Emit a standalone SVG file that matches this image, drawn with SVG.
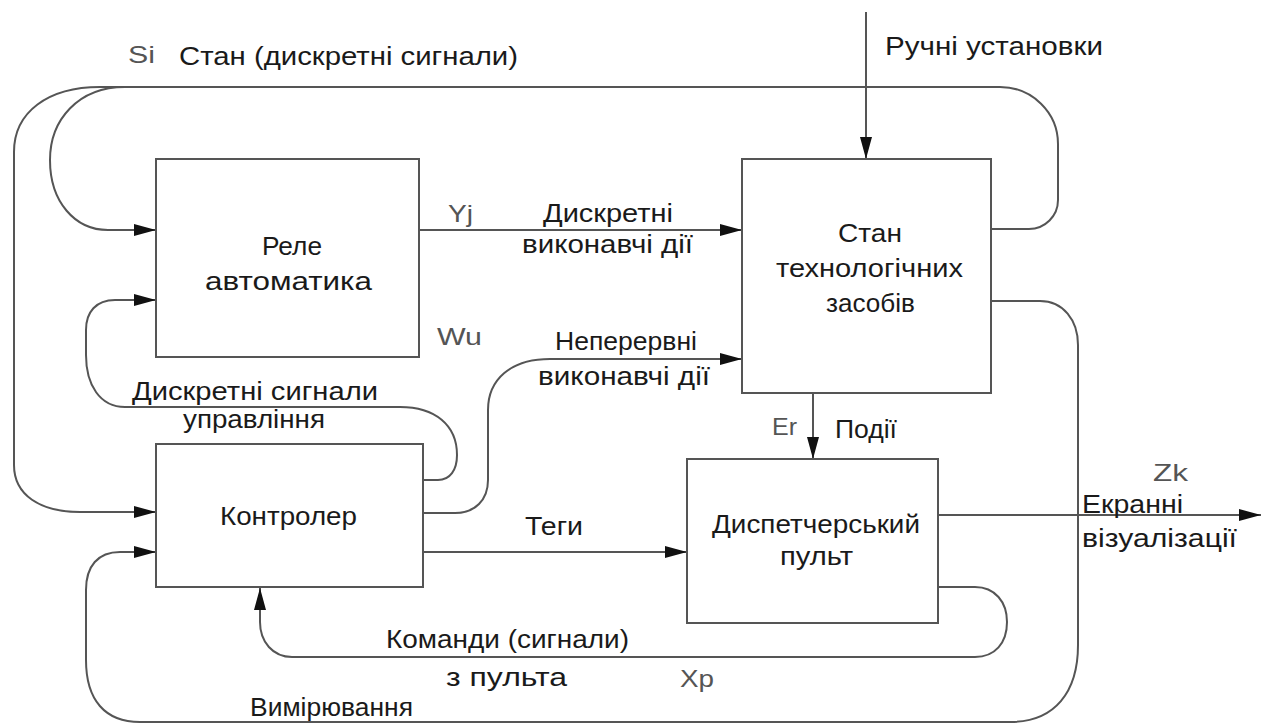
<svg xmlns="http://www.w3.org/2000/svg" width="1262" height="724" viewBox="0 0 1262 724">
<defs>
<marker id="arr" markerUnits="userSpaceOnUse" markerWidth="22" markerHeight="12" refX="22" refY="6" orient="auto">
<path d="M0,0 L22,6 L0,12 Z" fill="#111"/>
</marker>
</defs>
<style>
.box{fill:#fff;stroke:#555;stroke-width:2}
.ln{fill:none;stroke:#555;stroke-width:2}
.a{marker-end:url(#arr)}
.t{font-family:"Liberation Sans",Arial,sans-serif;font-size:26px;fill:#1a1a1a}
.v{font-family:"Liberation Sans",Arial,sans-serif;font-size:24px;fill:#555}
</style>
<rect width="1262" height="724" fill="#fff"/>
<g id="connectors">
<path class="ln a" d="M866,12 V159"/>
<path class="ln" d="M991,229 H1029 A29,29 0 0 0 1058,200 V144 A58,57 0 0 0 1000,87 H100"/>
<path class="ln a" d="M125,87 C78,87 50,120 50,160 C50,202 75,230 108,230 H156"/>
<path class="ln a" d="M100,87 C48,87 14,112 14,152 V465 C14,495 40,512 80,512 H156"/>
<path class="ln a" d="M419,230 H742"/>
<path class="ln a" d="M423,480 H438 C450,480 457,470 457,455 C457,425 435,407 400,407 H125 C100,407 86,385 86,355 V330 C86,312 96,300 115,300 H156"/>
<path class="ln a" d="M423,513 H455 C475,513 488,500 488,480 V410 C488,380 510,359 550,359 H742"/>
<path class="ln a" d="M813,393 V459"/>
<path class="ln a" d="M423,552 H687"/>
<path class="ln a" d="M938,515 H1261"/>
<path class="ln a" d="M991,301 H1040 C1063,301 1078,320 1078,345 V645 C1078,692 1055,722 1010,722 H140 C105,722 86,700 86,660 V590 C86,566 98,552 120,552 H156"/>
<path class="ln a" d="M938,587 H975 C995,587 1007,602 1007,622 C1007,643 995,657 975,657 H292 C273,657 260,642 260,622 V588"/>
</g>
<g id="rele">
<rect class="box" x="156" y="159" width="263" height="198"/>
<text class="t" x="262" y="255" textLength="60" lengthAdjust="spacingAndGlyphs">Реле</text>
<text class="t" x="205" y="290" textLength="167" lengthAdjust="spacingAndGlyphs">автоматика</text>
</g>
<g id="stan">
<rect class="box" x="742" y="159" width="249" height="234"/>
<text class="t" x="838" y="242" textLength="64" lengthAdjust="spacingAndGlyphs">Стан</text>
<text class="t" x="776" y="277" textLength="187" lengthAdjust="spacingAndGlyphs">технологічних</text>
<text class="t" x="826" y="312" textLength="89" lengthAdjust="spacingAndGlyphs">засобів</text>
</g>
<g id="kontroler">
<rect class="box" x="156" y="444" width="267" height="143"/>
<text class="t" x="220" y="525" textLength="137" lengthAdjust="spacingAndGlyphs">Контролер</text>
</g>
<g id="pult">
<rect class="box" x="687" y="459" width="251" height="164"/>
<text class="t" x="712" y="533" textLength="208" lengthAdjust="spacingAndGlyphs">Диспетчерський</text>
<text class="t" x="780" y="565" textLength="73" lengthAdjust="spacingAndGlyphs">пульт</text>
</g>
<g id="labels">
<text class="v" x="128" y="63" textLength="27" lengthAdjust="spacingAndGlyphs">Si</text>
<text class="t" x="179" y="65" textLength="339" lengthAdjust="spacingAndGlyphs">Стан (дискретні сигнали)</text>
<text class="t" x="885" y="55" textLength="218" lengthAdjust="spacingAndGlyphs">Ручні установки</text>
<text class="v" x="448" y="222" textLength="25" lengthAdjust="spacingAndGlyphs">Yj</text>
<text class="t" x="543" y="222" textLength="130" lengthAdjust="spacingAndGlyphs">Дискретні</text>
<text class="t" x="522" y="253" textLength="171" lengthAdjust="spacingAndGlyphs">виконавчі дії</text>
<text class="v" x="437" y="345" textLength="45" lengthAdjust="spacingAndGlyphs">Wu</text>
<text class="t" x="555" y="350" textLength="142" lengthAdjust="spacingAndGlyphs">Неперервні</text>
<text class="t" x="538" y="385" textLength="172" lengthAdjust="spacingAndGlyphs">виконавчі дії</text>
<text class="t" x="132" y="400" textLength="246" lengthAdjust="spacingAndGlyphs">Дискретні сигнали</text>
<text class="t" x="183" y="428" textLength="142" lengthAdjust="spacingAndGlyphs">управління</text>
<text class="v" x="772" y="435" textLength="25" lengthAdjust="spacingAndGlyphs">Er</text>
<text class="t" x="835" y="438" textLength="62" lengthAdjust="spacingAndGlyphs">Події</text>
<text class="t" x="525" y="535" textLength="58" lengthAdjust="spacingAndGlyphs">Теги</text>
<text class="v" x="1153" y="481" textLength="35" lengthAdjust="spacingAndGlyphs">Zk</text>
<text class="t" x="1082" y="513" textLength="101" lengthAdjust="spacingAndGlyphs">Екранні</text>
<text class="t" x="1082" y="547" textLength="155" lengthAdjust="spacingAndGlyphs">візуалізації</text>
<text class="t" x="386" y="648" textLength="243" lengthAdjust="spacingAndGlyphs">Команди (сигнали)</text>
<text class="t" x="446" y="686" textLength="121" lengthAdjust="spacingAndGlyphs">з пульта</text>
<text class="v" x="680" y="687" textLength="34" lengthAdjust="spacingAndGlyphs">Xp</text>
<text class="t" x="250" y="716" textLength="163" lengthAdjust="spacingAndGlyphs">Вимірювання</text>
</g>
</svg>
